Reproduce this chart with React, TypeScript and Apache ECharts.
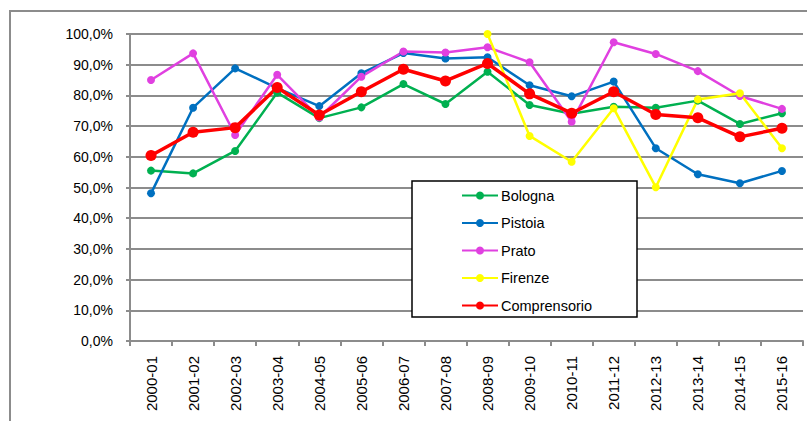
import React, { useEffect, useRef } from "react";
import * as echarts from "echarts";

const categories = [
  "2000-01", "2001-02", "2002-03", "2003-04", "2004-05", "2005-06", "2006-07", "2007-08",
  "2008-09", "2009-10", "2010-11", "2011-12", "2012-13", "2013-14", "2014-15", "2015-16",
];
const bologna = [55.5, 54.6, 61.9, 80.9, 72.6, 76.1, 83.7, 77.2, 87.7, 76.9, 74.0, 76.3, 76.0, 78.3, 70.7, 74.2];
const pistoia = [48.1, 76.0, 88.8, 82.4, 76.5, 87.2, 93.8, 92.0, 92.4, 83.3, 79.7, 84.5, 62.8, 54.3, 51.4, 55.4];
const prato = [85.0, 93.7, 67.1, 86.7, 72.8, 86.1, 94.3, 94.0, 95.7, 90.8, 71.4, 97.3, 93.5, 87.9, 79.8, 75.6];
const firenze = [null, null, null, null, null, null, null, null, 100.0, 66.8, 58.4, 75.8, 50.1, 78.7, 80.7, 62.8];
const comprensorio = [60.4, 68.0, 69.5, 82.6, 73.6, 81.2, 88.5, 84.7, 90.4, 80.5, 74.2, 81.2, 73.8, 72.7, 66.5, 69.3];
const yTicks = [0, 10, 20, 30, 40, 50, 60, 70, 80, 90, 100];

const FONT = "'Liberation Sans', Arial, sans-serif";

export default function App() {
  const ref = useRef<HTMLDivElement>(null);
  useEffect(() => {
    document.body.style.margin = "0";
    const chart = echarts.init(ref.current!, null, { renderer: "svg" });
    const mk = (name: string, data: (number | null)[], color: string, width: number, size: number) => ({
      name,
      type: "line",
      data,
      color,
      symbol: "circle",
      symbolSize: size,
      lineStyle: { width, color },
      itemStyle: { color },
      connectNulls: false,
    });
    chart.setOption({
      animation: false,
      backgroundColor: "#fff",
      graphic: [
        {
          type: "rect",
          shape: { x: 10, y: 11, width: 820, height: 430 },
          style: { fill: "none", stroke: "#8c8c8c", lineWidth: 2 },
          silent: true,
          z: 1,
        },
        {
          type: "rect",
          shape: { x: 412, y: 181, width: 225, height: 136 },
          style: { fill: "#fff", stroke: "#000", lineWidth: 1.5 },
          silent: true,
          z: 10,
        },
      ],
      grid: { left: 130, top: 34, right: 4, bottom: 80, containLabel: false },
      legend: {
        show: true,
        orient: "vertical",
        left: 461,
        top: 188,
        padding: 0,
        itemGap: 12.5,
        itemWidth: 36,
        itemHeight: 10,
        z: 20,
        textStyle: { fontFamily: FONT, fontSize: 14.5, color: "#000", padding: [0, 0, 0, -2] },
        data: ["Bologna", "Pistoia", "Prato", "Firenze", "Comprensorio"],
      },
      xAxis: {
        type: "category",
        data: categories,
        boundaryGap: true,
        splitLine: { show: false },
        axisLine: { lineStyle: { color: "#8c8c8c", width: 2 } },
        axisTick: { show: true, length: 5, lineStyle: { color: "#8c8c8c", width: 2 }, alignWithLabel: false },
        axisLabel: {
          rotate: 90,
          interval: 0,
          margin: 15,
          fontFamily: FONT,
          fontSize: 15,
          color: "#000",
        },
      },
      yAxis: {
        type: "value",
        min: 0,
        max: 100,
        interval: 10,
        axisLine: { show: true, lineStyle: { color: "#8c8c8c", width: 2 } },
        axisTick: { show: true, length: 4, lineStyle: { color: "#8c8c8c", width: 2 } },
        splitLine: { lineStyle: { color: "#8c8c8c", width: 2 } },
        axisLabel: {
          margin: 17,
          fontFamily: FONT,
          fontSize: 14,
          color: "#000",
          formatter: (v: number) => (yTicks.includes(v) ? v.toFixed(1).replace(".", ",") + "%" : ""),
        },
      },
      series: [
        mk("Bologna", bologna, "#00b050", 2.5, 8),
        mk("Pistoia", pistoia, "#0070c0", 2.5, 8),
        mk("Prato", prato, "#e040e0", 2.5, 8),
        mk("Firenze", firenze, "#ffff00", 2.5, 8),
        mk("Comprensorio", comprensorio, "#ff0000", 3.5, 11),
      ],
    });
    return () => chart.dispose();
  }, []);
  return <div ref={ref} style={{ position: "absolute", left: 0, top: 0, width: 807, height: 421 }} />;
}
